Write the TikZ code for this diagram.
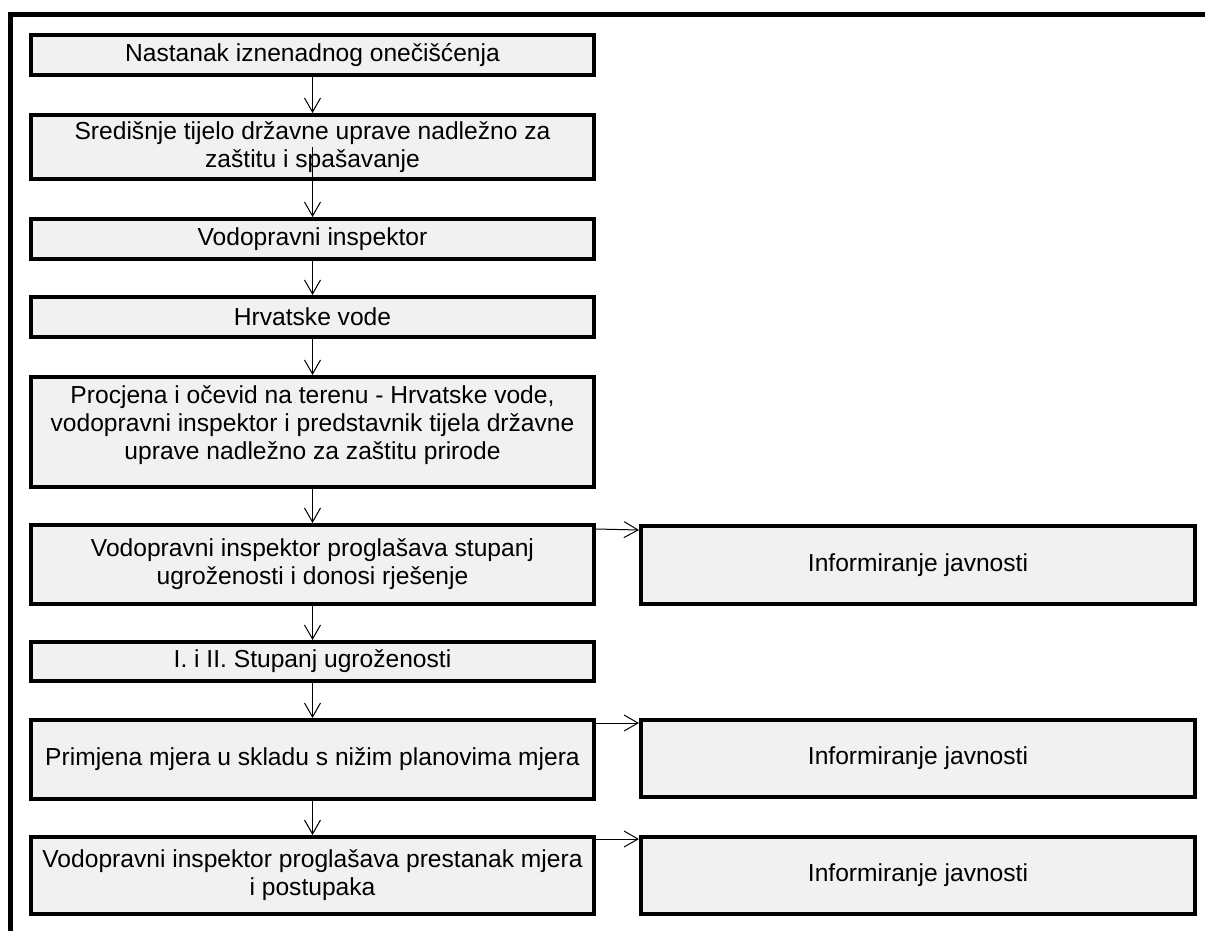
\documentclass[tikz,border=0pt]{standalone}
\usepackage{fontspec}
\setmainfont{Liberation Sans}
\usetikzlibrary{arrows.meta}
\definecolor{boxgray}{HTML}{F1F1F1}

\tikzset{
  stepbox/.style={draw,line width=4pt,fill=boxgray,inner sep=0pt,align=center,
    font=\fontsize{24.6}{28}\selectfont},
  leftbox/.style={stepbox,minimum width=563},
  infobox/.style={stepbox,minimum width=554},
  arr/.style={line width=1pt,-{Straight Barb[length=14pt,width=16pt]}}
}

\begin{document}
\begin{tikzpicture}[x=1pt,y=-1pt]
    \useasboundingbox (0,0) rectangle (1205,931);

    % frame
    \draw [line width=5pt] (1205,14.5) -- (10.5,14.5) -- (10.5,931);

    \node [leftbox,minimum height=40] (b1) at (312.5,55)
    {Nastanak iznenadnog onečišćenja};

    \node [leftbox,minimum height=64] (b2) at (312.5,147)
    {Središnje tijelo državne uprave nadležno za\\zaštitu i spašavanje};

    \node [leftbox,minimum height=40] (b3) at (312.5,239)
    {Vodopravni inspektor};

    \node [leftbox,minimum height=40] (b4) at (312.5,317)
    {Hrvatske vode};

    \node [leftbox,minimum height=110] (b5) at (312.5,432)
    {Procjena i očevid na terenu - Hrvatske vode,\\vodopravni inspektor i predstavnik tijela državne\\uprave nadležno za zaštitu prirode\\[-10pt]\mbox{}};

    \node [leftbox,minimum height=79] (b6) at (312.5,564.5)
    {Vodopravni inspektor proglašava stupanj\\ugroženosti i donosi rješenje};

    \node [leftbox,minimum height=39] (b7) at (312.5,661.5)
    {I. i II. Stupanj ugroženosti};

    \node [leftbox,minimum height=79] (b8) at (312.5,759.5)
    {Primjena mjera u skladu s nižim planovima mjera};

    \node [leftbox,minimum height=77] (b9) at (312.5,875.5)
    {Vodopravni inspektor proglašava prestanak mjera\\i postupaka};

    \node [infobox,minimum height=78] (i1) at (918,565) {Informiranje javnosti};
    \node [infobox,minimum height=77] (i2) at (918,758.5) {Informiranje javnosti};
    \node [infobox,minimum height=77] (i3) at (918,875.5) {Informiranje javnosti};

    \draw [arr] (b1) -- (b2);
    \draw [arr] (b2.center) -- (b3.north);
    \draw [arr] (b3) -- (b4);
    \draw [arr] (b4) -- (b5);
    \draw [arr] (b5) -- (b6);
    \draw [arr] (b6) -- (b7);
    \draw [arr] (b7) -- (b8);
    \draw [arr] (b8) -- (b9);

    \draw [arr] ([yshift=-6pt]b6.north east) -- ([yshift=-6pt]i1.north west);
    \draw [arr] ([yshift=-5pt]b8.north east) -- ([yshift=-5pt]i2.north west);
    \draw [arr] ([yshift=-4pt]b9.north east) -- ([yshift=-4pt]i3.north west);
  \end{tikzpicture}
\end{document}
